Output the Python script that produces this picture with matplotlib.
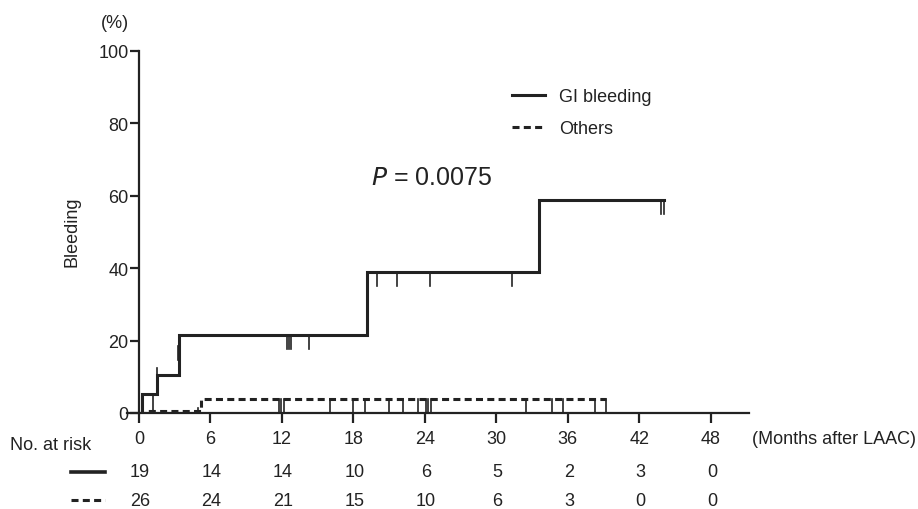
import matplotlib
matplotlib.use("Agg")
import matplotlib.pyplot as plt
import matplotlib.transforms as mtransforms
import numpy as np

plt.rcParams['font.family'] = ['Liberation Sans', 'DejaVu Sans']

# ---- data ----
gi_times = [0, 0.3, 1.5, 3.4, 19.1, 33.6, 44.1]
gi_levels = [0, 5.3, 10.5, 21.6, 39.0, 58.9, 58.9]
gi_censor = [1.2, 1.5, 3.25, 12.4, 12.6, 12.8, 14.3, 20.0, 21.7, 24.4, 31.3, 43.8, 44.1]

ot_times = [0, 0.8, 5.2, 39.2]
ot_levels = [0, 0.6, 3.8, 3.8]
ot_censor = [5.0, 11.75, 11.95, 12.15, 16.0, 18.0, 19.0, 21.0, 22.2, 23.4,
             24.1, 24.3, 24.5, 32.5, 34.7, 35.6, 38.3, 39.2]

xticks = [0, 6, 12, 18, 24, 30, 36, 42, 48]
yticks = [0, 20, 40, 60, 80, 100]
risk_gi = [19, 14, 14, 10, 6, 5, 2, 3, 0]
risk_ot = [26, 24, 21, 15, 10, 6, 3, 0, 0]

p_text = "0.0075"

col = '#222222'
FS = 13
DASH = (0, (2.3, 1.4))

def level_at(times, levels, t):
    idx = np.searchsorted(times, t, side='right') - 1
    return levels[max(idx, 0)]

fig = plt.figure(figsize=(9.18, 5.10), dpi=100)
W, H = 918, 510
x0px, x1px = 127, 749
y0px, y1px = 414, 52
ax = fig.add_axes([x0px / W, 1 - y0px / H, (x1px - x0px) / W, (y0px - y1px) / H])
ax.set_xlim(-1, 51.2)
ax.set_ylim(0, 100)

ax.step(gi_times, gi_levels, where='post', color=col, lw=2.2, label='GI bleeding',
        solid_joinstyle='miter')
ax.step(ot_times, ot_levels, where='post', color=col, lw=2.2, linestyle=DASH,
        label='Others')

tick_len = 3.8
for t in gi_censor:
    y = level_at(gi_times, gi_levels, t)
    ln = tick_len
    if t == 1.2:
        ln = 5.2
    if t == 1.5:
        y = 12.5
    if t == 3.25:
        y = 18.5
    ax.plot([t, t], [y, max(y - ln, 0)], color=col, lw=1.2)
for t in ot_censor:
    y = level_at(ot_times, ot_levels, t)
    if t == 5.0:
        y = 1.5
    ax.plot([t, t], [y, max(y - tick_len, 0)], color=col, lw=1.2)

for s in ['top', 'right']:
    ax.spines[s].set_visible(False)
ax.spines['left'].set_position(('data', 0))
for s in ['left', 'bottom']:
    ax.spines[s].set_linewidth(1.6)
    ax.spines[s].set_color(col)

ax.set_xticks(xticks)
ax.set_xticklabels([str(v) for v in xticks], fontsize=FS)
ax.set_yticks(yticks)
ax.set_yticklabels([str(v) for v in yticks], fontsize=FS)
ax.tick_params(axis='both', direction='out', width=1.6, color=col, labelcolor=col)
ax.tick_params(axis='x', length=7, pad=5)
ax.tick_params(axis='y', length=6.5, pad=1)

fig.text(72 / W, 1 - 232 / H, 'Bleeding', rotation=90, fontsize=FS, color=col,
         ha='center', va='center')
fig.text(115 / W, 1 - 24 / H, '(%)', fontsize=FS, color=col, ha='center', va='center')

ax.text(19.45, 65.2, r'$\it{P}$ = ' + p_text, fontsize=18, color=col, ha='left', va='center')

leg = ax.legend(loc='upper left',
                bbox_to_anchor=((512 - x0px) / (x1px - x0px), 1 - (89 - y1px) / (y0px - y1px)),
                frameon=False, fontsize=FS, handlelength=1.85, handletextpad=0.75,
                labelspacing=0.85, borderaxespad=0, borderpad=0)
for t in leg.get_texts():
    t.set_color(col)

trans = mtransforms.blended_transform_factory(ax.transData, fig.transFigure)
fig.text(752 / W, 1 - 439 / H, '(Months after LAAC)', fontsize=FS, color=col, ha='left', va='center')
fig.text(10 / W, 1 - 446 / H, 'No. at risk', fontsize=FS, color=col, ha='left', va='center')
for xv, a, b in zip(xticks, risk_gi, risk_ot):
    ax.text(xv + 0.1, 1 - 473 / H, str(a), transform=trans, fontsize=FS, color=col,
            ha='center', va='center')
    ax.text(xv + 0.1, 1 - 502 / H, str(b), transform=trans, fontsize=FS, color=col,
            ha='center', va='center')
fig.add_artist(plt.Line2D([71 / W, 105 / W], [1 - 473 / H] * 2, color=col, lw=2.6))
fig.add_artist(plt.Line2D([71 / W, 105 / W], [1 - 501 / H] * 2, color=col, lw=2.2,
                          linestyle=DASH))

fig.savefig('out.png', dpi=100)
